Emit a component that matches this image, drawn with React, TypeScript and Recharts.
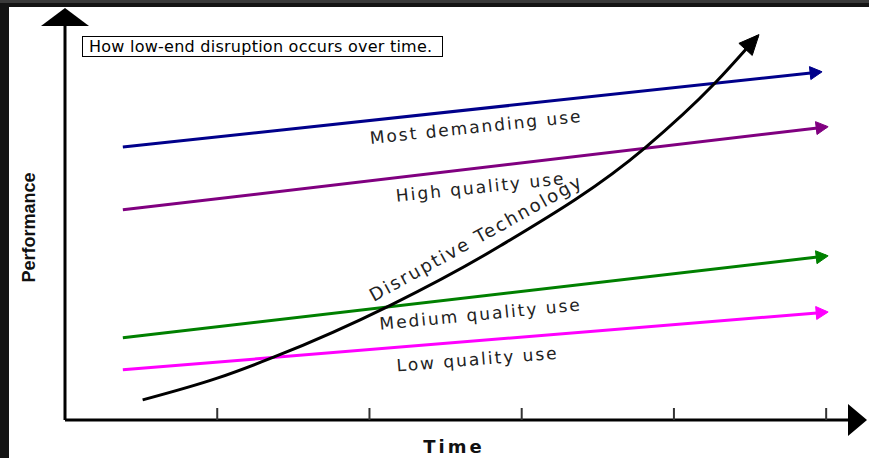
import { ComposedChart, Line, XAxis, YAxis, ReferenceDot, Label } from 'recharts'

type Pt = { x: number; y: number }

// time runs 0..5 (arrow past 5), performance 0..100
const timeTicks = [1, 2, 3, 4, 5]

const mostDemanding: Pt[] = [
  { x: 0.38, y: 69.1 },
  { x: 4.96, y: 88.1 },
]
const highQuality: Pt[] = [
  { x: 0.38, y: 53.2 },
  { x: 5.0, y: 74.2 },
]
const mediumQuality: Pt[] = [
  { x: 0.38, y: 20.8 },
  { x: 5.0, y: 41.5 },
]
const lowQuality: Pt[] = [
  { x: 0.38, y: 12.7 },
  { x: 5.0, y: 27.3 },
]
const disruptive: Pt[] = [
  { x: 0.51, y: 5.1 },
  { x: 1.0, y: 10.6 },
  { x: 1.37, y: 15.9 },
  { x: 2.14, y: 29.1 },
  { x: 2.86, y: 44.1 },
  { x: 3.81, y: 68.9 },
  { x: 4.27, y: 85.3 },
  { x: 4.55, y: 97.2 },
]

const seriesNames = ['Most demanding use', 'High quality use', 'Medium quality use', 'Low quality use']
const curveName = 'Disruptive Technology'

// where the rotated captions sit (data coords) and their tilt
const captions = [
  { text: seriesNames[0], x: 2.7, y: 74.2, angle: -6, size: 17 },
  { text: seriesNames[1], x: 2.73, y: 59.0, angle: -6, size: 17 },
  { text: seriesNames[2], x: 2.73, y: 26.8, angle: -5.5, size: 17 },
  { text: seriesNames[3], x: 2.71, y: 15.4, angle: -4.5, size: 17 },
  { text: curveName, x: 2.7, y: 46.1, angle: -29, size: 18 },
]

const X_MAX = 5.15
const PX_X = 784 / X_MAX
const PX_Y = 395 / 100

function arrowDot(data: Pt[], color: string, len: number, half: number) {
  return (props: any) => {
    const { cx, cy, index, points } = props
    const last = (points ? points.length : data.length) - 1
    if (index !== last || cx == null) return <g key={`d-${index}`} />
    let dx: number
    let dy: number
    if (points && points.length > 1) {
      dx = cx - points[index - 1].x
      dy = cy - points[index - 1].y
    } else {
      dx = (data[index].x - data[index - 1].x) * PX_X
      dy = -(data[index].y - data[index - 1].y) * PX_Y
    }
    const a = Math.atan2(dy, dx)
    const c = Math.cos(a)
    const s = Math.sin(a)
    const tx = cx + c * 2
    const ty = cy + s * 2
    const bx = tx - c * len
    const by = ty - s * len
    const pts = `${tx},${ty} ${bx - s * half},${by + c * half} ${bx + s * half},${by - c * half}`
    return <polygon key={`d-${index}`} points={pts} fill={color} stroke={color} strokeWidth={1} />
  }
}

// tick marks stand up from the axis line, no labels
function UpTick(props: any) {
  const { x, y } = props
  return <line x1={x} y1={y} x2={x} y2={y - 12} stroke="#333" strokeWidth={2} />
}

export default function App() {
  return (
    <div
      style={{
        position: 'absolute',
        left: 0,
        top: 0,
        width: 869,
        height: 458,
        background: '#141414',
        overflow: 'hidden',
      }}
    >
      <div style={{ position: 'absolute', left: 0, top: 0, width: 869, height: 3, background: '#3a3a3a' }} />
      <div style={{ position: 'absolute', left: 9, top: 7, right: 0, bottom: 0, background: '#fff' }} />
      <div style={{ position: 'absolute', left: 0, top: 0 }}>
        <ComposedChart width={869} height={458} margin={{ top: 25, right: 20, bottom: 0, left: 5 }}>
          <XAxis
            type="number"
            dataKey="x"
            domain={[0, X_MAX]}
            ticks={timeTicks}
            tick={<UpTick />}
            tickSize={0}
            tickMargin={0}
            height={38}
            tickLine={false}
            axisLine={{ stroke: '#000', strokeWidth: 3 }}
            allowDataOverflow
          >
            <Label
              content={(p: any) => (
                <text
                  x={p.viewBox.x + 389}
                  y={p.viewBox.y + 33}
                  textAnchor="middle"
                  fontFamily="DejaVu Sans"
                  fontWeight="bold"
                  fontSize={18}
                  letterSpacing={3}
                  fill="#111"
                >
                  Time
                </text>
              )}
            />
          </XAxis>
          <YAxis
            type="number"
            dataKey="y"
            domain={[0, 100]}
            width={60}
            tick={false}
            tickLine={false}
            axisLine={{ stroke: '#000', strokeWidth: 3 }}
            allowDataOverflow
          >
            <Label
              content={(p: any) => {
                const x = p.viewBox.x + 30
                const y = p.viewBox.y + p.viewBox.height / 2 + 5
                return (
                  <text
                    x={x}
                    y={y}
                    transform={`rotate(-90, ${x}, ${y})`}
                    textAnchor="middle"
                    fontFamily="Liberation Sans"
                    fontWeight="bold"
                    fontSize={18}
                    fill="#111"
                  >
                    Performance
                  </text>
                )
              }}
            />
          </YAxis>

          <Line
            data={mostDemanding}
            dataKey="y"
            type="linear"
            stroke="#00008B"
            strokeWidth={3}
            dot={arrowDot(mostDemanding, '#00008B', 12, 6.5)}
            activeDot={false}
            isAnimationActive={false}
          />
          <Line
            data={highQuality}
            dataKey="y"
            type="linear"
            stroke="#800080"
            strokeWidth={3}
            dot={arrowDot(highQuality, '#800080', 12, 6.5)}
            activeDot={false}
            isAnimationActive={false}
          />
          <Line
            data={mediumQuality}
            dataKey="y"
            type="linear"
            stroke="#008000"
            strokeWidth={3}
            dot={arrowDot(mediumQuality, '#008000', 12, 6.5)}
            activeDot={false}
            isAnimationActive={false}
          />
          <Line
            data={lowQuality}
            dataKey="y"
            type="linear"
            stroke="#FF00FF"
            strokeWidth={3}
            dot={arrowDot(lowQuality, '#FF00FF', 12, 6.5)}
            activeDot={false}
            isAnimationActive={false}
          />
          <Line
            data={disruptive}
            dataKey="y"
            type="monotone"
            stroke="#000"
            strokeWidth={3}
            dot={arrowDot(disruptive, '#000', 20, 9)}
            activeDot={false}
            isAnimationActive={false}
          />

          {/* axis arrowheads */}
          <ReferenceDot
            x={0}
            y={100}
            r={0}
            ifOverflow="visible"
            shape={(p: any) => (
              <polygon points={`${p.cx - 24},${p.cy + 1} ${p.cx + 24},${p.cy + 1} ${p.cx},${p.cy - 17}`} fill="#000" />
            )}
          />
          <ReferenceDot
            x={X_MAX}
            y={0}
            r={0}
            ifOverflow="visible"
            shape={(p: any) => (
              <polygon points={`${p.cx - 1},${p.cy - 16} ${p.cx - 1},${p.cy + 16} ${p.cx + 18},${p.cy}`} fill="#000" />
            )}
          />

          {captions.map((c) => (
            <ReferenceDot
              key={c.text}
              x={c.x}
              y={c.y}
              r={0}
              ifOverflow="visible"
              shape={(p: any) => (
                <text
                  x={p.cx}
                  y={p.cy}
                  transform={`rotate(${c.angle}, ${p.cx}, ${p.cy})`}
                  textAnchor="middle"
                  dominantBaseline="central"
                  fontFamily="DejaVu Sans"
                  fontSize={c.size}
                  letterSpacing={2}
                  fill="#222"
                >
                  {c.text}
                </text>
              )}
            />
          ))}
        </ComposedChart>
      </div>
      <div
        style={{
          position: 'absolute',
          left: 82,
          top: 36,
          width: 361,
          height: 21,
          boxSizing: 'border-box',
          border: '1px solid #000',
          background: '#fff',
          fontFamily: 'DejaVu Sans',
          fontSize: 16,
          lineHeight: '19px',
          paddingLeft: 6,
          letterSpacing: 0.25,
          whiteSpace: 'nowrap',
          color: '#000',
        }}
      >
        How low-end disruption occurs over time.
      </div>
    </div>
  )
}
